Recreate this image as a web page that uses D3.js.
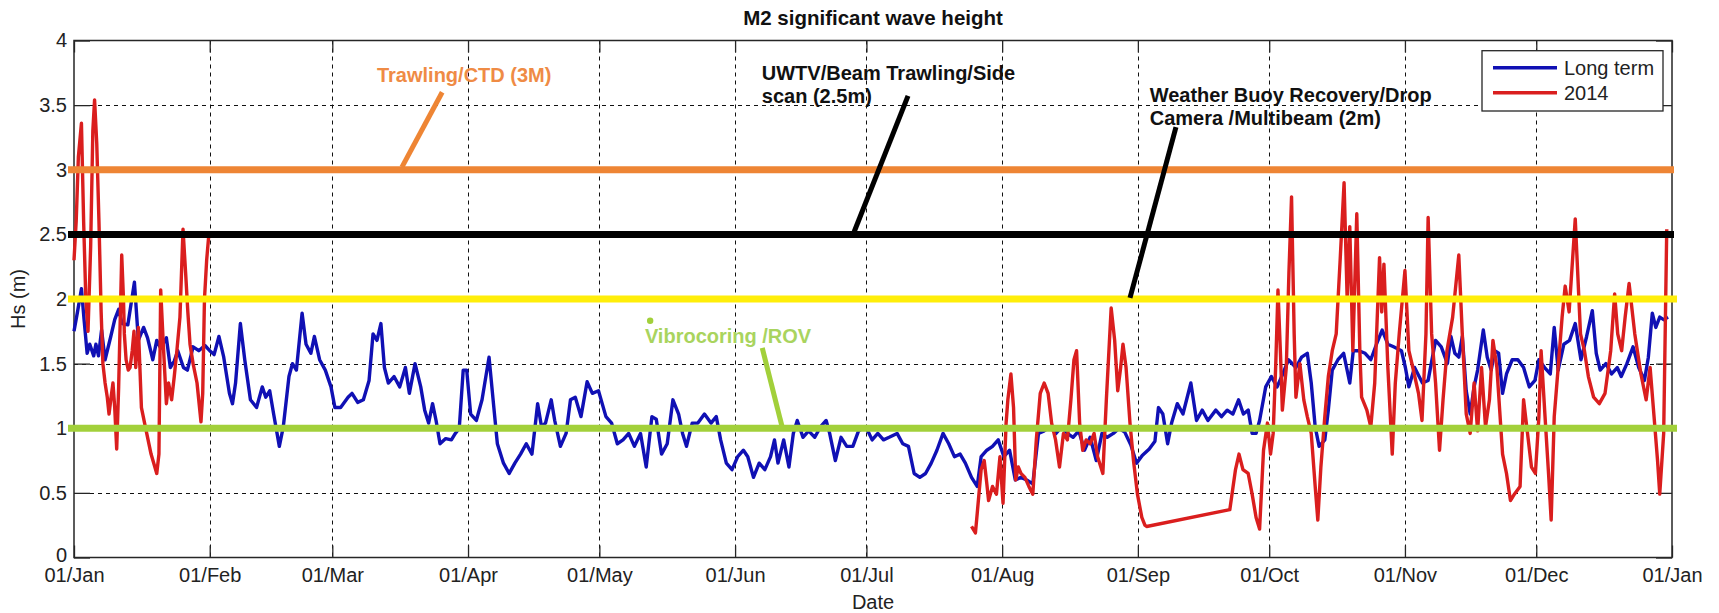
<!DOCTYPE html>
<html><head><meta charset="utf-8">
<script src="https://cdn.jsdelivr.net/npm/d3@7"></script>
<style>
html,body{margin:0;padding:0;background:#fff;}
svg{display:block;font-family:"Liberation Sans",Arial,Helvetica,sans-serif;}
</style></head><body>
<svg id="chart" width="1719" height="613"></svg>
<script>
// ---------------- DATA ----------------
const chartTitle = "M2 significant wave height";
const xLabel = "Date";
const yLabel = "Hs (m)";
const xTickLabels = ["01/Jan","01/Feb","01/Mar","01/Apr","01/May","01/Jun","01/Jul","01/Aug","01/Sep","01/Oct","01/Nov","01/Dec","01/Jan"];
const yTickValues = [0,0.5,1,1.5,2,2.5,3,3.5,4];
const yTickLabels = ["0","0.5","1","1.5","2","2.5","3","3.5","4"];
const seriesNames = ["Long term","2014"];

// [day of year (0 = 01/Jan/2014), Hs in metres]
const longTerm = [
[0,1.75],[0.8,1.9],[1.7,2.08],[2.3,1.84],[3,1.58],[3.6,1.65],[4.5,1.56],[5,1.65],[5.6,1.56],[6.3,1.76],
[7.1,1.53],[8.4,1.71],[9.3,1.84],[10.2,1.92],[11,1.81],[12.3,1.8],[13.8,2.13],[14.7,1.68],[15.9,1.78],[16.8,1.7],
[18,1.53],[18.9,1.68],[19.8,1.62],[21.1,1.7],[22,1.47],[22.9,1.52],[23.7,1.6],[25,1.47],[25.9,1.45],[27.2,1.63],
[28.5,1.6],[29.9,1.64],[31,1.6],[32,1.57],[33.1,1.71],[34.2,1.55],[35.5,1.27],[36.2,1.19],[36.9,1.35],[38,1.81],
[39,1.53],[40.3,1.22],[41.7,1.16],[43,1.32],[43.8,1.24],[44.7,1.29],[45.6,1.11],[46.9,0.86],[47.8,1.01],[49.1,1.4],
[49.9,1.5],[50.8,1.45],[52.1,1.89],[53,1.65],[54.1,1.58],[54.9,1.71],[56.1,1.53],[57.4,1.45],[58.7,1.32],[59.6,1.16],
[60.9,1.16],[62.6,1.24],[63.5,1.27],[64.8,1.2],[66.1,1.22],[67.4,1.37],[68.3,1.73],[69.2,1.68],[70.1,1.81],[70.9,1.47],
[71.8,1.35],[73.1,1.4],[74.4,1.32],[75.7,1.47],[76.6,1.27],[77.9,1.5],[79.2,1.32],[80.1,1.14],[81,1.04],[81.9,1.19],
[82.7,1.06],[83.6,0.88],[84.9,0.92],[86.2,0.91],[87.1,0.96],[88,1.0],[88.9,1.45],[89.7,1.45],[90.6,1.11],[91.9,1.06],
[93.2,1.22],[94.8,1.55],[95.9,1.16],[96.7,0.88],[98.1,0.73],[99.4,0.65],[100.7,0.73],[102,0.8],[103.3,0.88],[104.6,0.8],
[105.9,1.19],[106.8,1.01],[107.7,1.04],[109,1.22],[109.8,1.06],[111.1,0.86],[112.4,0.96],[113.4,1.22],[114.5,1.24],[115.8,1.09],
[117.2,1.36],[118.4,1.27],[119.8,1.29],[121.5,1.09],[122.8,1.04],[124.1,0.88],[125.4,0.91],[126.7,0.96],[128,0.86],[129.4,0.96],
[130.7,0.7],[132,1.09],[133,1.07],[134.2,0.8],[135.5,0.88],[136.8,1.22],[138.1,1.11],[139,0.96],[139.9,0.86],[141.2,1.04],
[142.5,1.04],[144,1.11],[145.5,1.04],[146.7,1.09],[147.7,0.91],[149,0.73],[150.3,0.68],[151.6,0.78],[152.9,0.83],[153.9,0.78],
[155.2,0.62],[156.5,0.73],[157.8,0.68],[159.1,0.78],[160,0.91],[160.8,0.73],[162.1,0.91],[163.3,0.7],[164.3,0.96],[165.2,1.06],
[166.5,0.93],[167.8,0.98],[169.2,0.93],[170.5,1.01],[171.8,1.06],[172.6,0.96],[173.9,0.75],[175.2,0.93],[176.5,0.86],[177.9,0.86],
[179.2,0.98],[180.9,1.01],[182.3,0.91],[183.6,0.96],[184.9,0.91],[186.2,0.93],[188,0.96],[189.3,0.88],[190.6,0.86],[191.9,0.65],
[193.2,0.62],[194.5,0.65],[195.8,0.73],[197.1,0.83],[198.5,0.96],[199.8,0.88],[201.1,0.78],[202.4,0.8],[203.6,0.73],[205,0.62],
[206.3,0.55],[207.2,0.78],[208.5,0.83],[209.8,0.86],[211.1,0.91],[212.4,0.78],[213.7,0.83],[215,0.6],[216.3,0.62],[217.6,0.6],
[219,0.57],[220.3,0.96],[221.6,0.98],[222.9,1.01],[224.3,0.96],[225.6,1.01],[226.9,0.96],[228.2,0.93],[229.5,0.98],[230.8,0.83],
[232.1,0.93],[233.5,0.75],[234.8,0.96],[236,0.93],[237.4,0.96],[238.7,1.0],[240,0.97],[241.4,0.87],[242.7,0.73],[244,0.79],
[245.6,0.84],[246.9,0.9],[247.7,1.16],[248.7,1.11],[249.8,0.88],[250.7,1.04],[252,1.19],[253.3,1.11],[255.1,1.35],[256.4,1.06],
[257.7,1.14],[259,1.06],[260.8,1.14],[262.1,1.09],[263.4,1.14],[264.7,1.11],[266,1.22],[267.1,1.11],[268.2,1.14],[269.1,0.96],
[270,0.96],[270.8,1.06],[272.2,1.32],[273.5,1.4],[274.8,1.32],[276.1,1.42],[277.4,1.53],[279.1,1.47],[280.4,1.55],[281.7,1.58],
[282.6,1.35],[283.5,1.01],[284.4,0.86],[285.7,0.91],[286.5,1.14],[287.4,1.45],[288.7,1.53],[290,1.58],[291.4,1.35],[292.2,1.6],
[293.5,1.6],[294.9,1.58],[296.2,1.53],[297.5,1.65],[298.8,1.76],[300.1,1.65],[301.4,1.63],[303.2,1.6],[304.1,1.47],[304.9,1.32],
[306.2,1.47],[308,1.35],[309.3,1.37],[311,1.68],[312.3,1.63],[313.7,1.5],[314.5,1.71],[315.4,1.58],[316.3,1.55],[317.1,1.71],
[318,1.29],[318.9,1.11],[319.8,1.32],[320.6,1.45],[321.9,1.76],[322.8,1.55],[323.7,1.45],[324.5,1.6],[325.4,1.58],[326.3,1.27],
[327.2,1.42],[328.5,1.53],[329.8,1.53],[331.1,1.47],[332.4,1.32],[333.7,1.37],[334.6,1.53],[335.9,1.47],[337.2,1.42],[338.1,1.78],
[339,1.45],[340.3,1.65],[341.6,1.68],[342.9,1.81],[344.2,1.53],[345.5,1.71],[346.8,1.91],[347.7,1.58],[348.6,1.45],[349.9,1.5],
[351.2,1.42],[352.5,1.47],[353.4,1.4],[354.7,1.5],[356.1,1.63],[357.4,1.47],[358.7,1.37],[359.6,1.55],[360.5,1.89],[361.3,1.78],
[362.2,1.86],[363.1,1.84],[364.1,1.86]
];

// null marks the data gap
const year2014 = [
[0,2.3],[0.5,2.6],[1,3.1],[1.7,3.36],[2.2,2.6],[2.7,2.0],[3.2,1.75],[3.8,2.4],[4.3,3.3],[4.7,3.54],
[5.2,3.2],[5.7,2.6],[6.2,1.9],[6.6,1.5],[7.1,1.35],[7.6,1.24],[8,1.11],[8.4,1.22],[8.9,1.35],[9.3,1.16],
[9.75,0.84],[10.2,1.32],[10.6,1.9],[10.9,2.34],[11.3,2.0],[11.5,1.73],[11.9,1.53],[12.4,1.45],[12.8,1.47],[13.3,1.6],
[13.7,1.75],[14.1,1.47],[14.7,1.78],[15.4,1.16],[16.3,1.01],[17.6,0.8],[18.9,0.65],[19.4,0.8],[19.8,2.07],[20.5,1.58],
[21.1,1.19],[21.6,1.35],[22.3,1.22],[22.9,1.4],[23.5,1.6],[24.2,1.86],[24.9,2.54],[25.5,2.2],[26,1.9],[26.5,1.65],
[27.2,1.5],[28.1,1.35],[29,1.05],[29.4,1.27],[29.8,2.0],[30.3,2.3],[30.8,2.5],
null,
[205,0.24],[205.9,0.19],[206.3,0.34],[207.2,0.68],[207.9,0.75],[208.5,0.57],[208.9,0.44],[209.8,0.55],[210.7,0.49],[211.5,0.78],
[212.2,0.42],[212.9,1.04],[213.3,1.22],[214,1.42],[214.6,1.16],[215.1,0.6],[215.7,0.7],[216.3,0.65],[217.2,0.62],[218.1,0.55],
[219,0.49],[219.8,0.91],[220.7,1.27],[221.6,1.35],[222.5,1.27],[223.3,1.04],[224.2,0.91],[225.1,0.7],[226,0.96],[226.9,0.91],
[227.7,1.22],[228.4,1.53],[229,1.6],[229.7,1.04],[230.4,0.83],[231.2,0.91],[232.1,0.88],[233,0.96],[233.8,0.78],[235,0.65],
[235.8,1.22],[236.9,1.93],[237.7,1.68],[238.4,1.29],[239,1.45],[239.6,1.65],[240.3,1.47],[241.2,1.04],[242,0.75],[242.9,0.49],
[243.9,0.31],[244.6,0.25],[245,0.24],[264,0.37],[265.3,0.68],[266.1,0.8],[267,0.68],[268.2,0.65],[269.1,0.49],[270,0.31],
[270.8,0.22],[271.7,0.83],[272.6,1.04],[273.3,0.8],[273.9,0.96],[274.5,1.5],[275,2.07],[275.6,1.55],[276,1.14],[276.9,1.47],
[277.5,2.2],[278.1,2.79],[278.7,1.73],[279.1,1.24],[280,1.5],[280.9,1.22],[281.7,1.09],[282.6,0.96],[283.5,0.55],[284.1,0.29],
[284.8,0.7],[285.7,1.09],[286.5,1.4],[287.4,1.6],[288.3,1.73],[289.2,2.3],[290.1,2.9],[290.8,2.0],[291.4,2.56],[292.1,1.6],
[293,2.66],[293.7,1.6],[294.1,1.24],[295.3,1.14],[296.2,1.01],[297.1,1.35],[298.2,2.32],[298.7,1.9],[299.2,2.27],[300.1,1.47],
[301.1,0.8],[301.8,1.35],[302.7,1.73],[304,2.22],[304.9,1.6],[305.8,1.47],[307.1,1.27],[307.9,1.06],[308.8,1.73],[309.3,2.63],
[310.1,1.73],[311,1.35],[311.9,0.83],[312.7,1.22],[313.6,1.6],[314.9,1.86],[316.3,2.34],[317.1,1.73],[318,1.11],[318.9,0.96],
[319.8,1.35],[320.6,0.98],[321.5,1.47],[322.4,1.01],[323.3,1.22],[324.1,1.68],[325,1.47],[326.3,0.8],[327.2,0.65],[328.1,0.44],
[329,0.49],[330.3,0.55],[331.1,1.22],[332,0.96],[332.9,0.7],[333.8,0.65],[334.6,1.09],[335.1,1.6],[336,1.09],[336.8,0.65],
[337.4,0.29],[338.1,1.09],[339,1.47],[339.9,1.86],[340.6,2.1],[341.5,1.9],[342.9,2.62],[344.1,1.73],[345,1.6],[345.9,1.4],
[347.1,1.24],[348.4,1.19],[349.7,1.27],[351,1.6],[351.9,2.04],[352.6,1.73],[353.5,1.6],[354.3,1.86],[355.2,2.12],[356.5,1.73],
[357.9,1.42],[359.1,1.22],[360,1.47],[360.9,1.09],[361.7,0.75],[362.2,0.49],[363.1,0.96],[363.8,2.54]
];

// operational thresholds (m)
const thresholdValues = [3, 2.5, 2, 1];
const thresholdLabels = [["Trawling/CTD (3M)"], ["UWTV/Beam Trawling/Side","scan (2.5m)"], ["Weather Buoy Recovery/Drop","Camera /Multibeam (2m)"], ["Vibrocoring /ROV"]];

// ---------------- LAYOUT / STYLE ----------------
const W = 1719, H = 613;
const plot = {x0: 74, x1: 1672, y0: 40.5, y1: 557.5};
const thresholdColors = ["#EE8534", "#000000", "#FFEE0A", "#A2D03A"];
const leaderColors = ["#EE8534", "#000000", "#000000", "#A2D03A"];
const labelColors = ["#EF8B45", "#111111", "#111111", "#A9D45E"];
// annotation anchor positions in data units [day, Hs]
const annot = [
  {text:[69.2,3.679], from:[84.1,3.60], to:[74.9,3.02]},
  {text:[157.1,3.694], from:[190.5,3.571], to:[178.2,2.52]},
  {text:[245.7,3.528], from:[251.7,3.33], to:[241.2,2.008]},
  {text:[130.4,1.663], from:[157.2,1.621], to:[161.7,1.017], dot:[131.6,1.832]}
];
const FONT = 20;

const dayToDate = d => new Date(Date.UTC(2014,0,1) + d*864e5);
const monthDates = d3.range(13).map(i => new Date(Date.UTC(2014, i, 1)));

const x = d3.scaleUtc().domain([Date.UTC(2014,0,1), Date.UTC(2015,0,1)]).range([plot.x0, plot.x1]);
const y = d3.scaleLinear().domain([0,4]).range([plot.y1, plot.y0]);

const svg = d3.select("#chart");
svg.append("rect").attr("width", W).attr("height", H).attr("fill", "#fff");

// gridlines
const grid = svg.append("g").attr("stroke", "#111").attr("stroke-width", 1).attr("stroke-dasharray", "4,4");
grid.selectAll("line.v").data(monthDates.slice(1, -1)).join("line")
  .attr("x1", d => Math.round(x(d)) + 0.5).attr("x2", d => Math.round(x(d)) + 0.5)
  .attr("y1", plot.y0).attr("y2", plot.y1);
grid.selectAll("line.h").data(yTickValues.slice(1, -1)).join("line")
  .attr("y1", d => Math.round(y(d)) + 0.5).attr("y2", d => Math.round(y(d)) + 0.5)
  .attr("x1", plot.x0).attr("x2", plot.x1);

// axes
const styleAxis = g => {
  g.select(".domain").remove();
  g.selectAll(".tick line").attr("stroke", "#262626").attr("stroke-width", 1.3);
  g.selectAll(".tick text").attr("fill", "#222").attr("font-size", FONT).attr("font-family", '"Liberation Sans",Arial,sans-serif');
};
svg.append("g").attr("transform", `translate(0,${plot.y1})`)
  .call(d3.axisBottom(x).tickValues(monthDates).tickFormat((d,i) => xTickLabels[i]).tickSizeInner(-12).tickSizeOuter(0).tickPadding(10))
  .call(styleAxis);
svg.append("g").attr("transform", `translate(0,${plot.y0})`)
  .call(d3.axisTop(x).tickValues(monthDates).tickFormat("").tickSizeInner(-12).tickSizeOuter(0))
  .call(styleAxis);
svg.append("g").attr("transform", `translate(${plot.x0},0)`)
  .call(d3.axisLeft(y).tickValues(yTickValues).tickFormat((d,i) => yTickLabels[i]).tickSizeInner(-16).tickSizeOuter(0).tickPadding(7))
  .call(styleAxis)
  .call(g => g.selectAll(".tick text").filter(d => d === 0).attr("dy", "0.2em"));
svg.append("g").attr("transform", `translate(${plot.x1},0)`)
  .call(d3.axisRight(y).tickValues(yTickValues).tickFormat("").tickSizeInner(-16).tickSizeOuter(0))
  .call(styleAxis);

// frame
svg.append("rect").attr("x", plot.x0).attr("y", plot.y0)
  .attr("width", plot.x1 - plot.x0).attr("height", plot.y1 - plot.y0)
  .attr("fill", "none").attr("stroke", "#262626").attr("stroke-width", 1.5);

// series
const line = d3.line().defined(d => d !== null)
  .x(d => x(dayToDate(d[0]))).y(d => y(d[1])).curve(d3.curveLinear);
svg.append("path").datum(longTerm).attr("d", line)
  .attr("fill", "none").attr("stroke", "#1010B4").attr("stroke-width", 3.4).attr("stroke-linejoin", "round");
svg.append("path").datum(year2014).attr("d", line)
  .attr("fill", "none").attr("stroke", "#DA1E1E").attr("stroke-width", 3.4).attr("stroke-linejoin", "round");

// threshold lines
svg.append("g").selectAll("line").data(thresholdValues).join("line")
  .attr("x1", plot.x0 - 6).attr("x2", (d,i) => plot.x1 + (i >= 2 ? 5 : 2))
  .attr("y1", d => y(d)).attr("y2", d => y(d))
  .attr("stroke", (d,i) => thresholdColors[i]).attr("stroke-width", 7);

// annotations
const ann = svg.append("g");
annot.forEach((a, i) => {
  ann.append("line")
    .attr("x1", x(dayToDate(a.from[0]))).attr("y1", y(a.from[1]))
    .attr("x2", x(dayToDate(a.to[0]))).attr("y2", y(a.to[1]))
    .attr("stroke", leaderColors[i]).attr("stroke-width", 5);
  if (a.dot) ann.append("circle").attr("cx", x(dayToDate(a.dot[0]))).attr("cy", y(a.dot[1]))
    .attr("r", 3.2).attr("fill", leaderColors[i]);
  const t = ann.append("text").attr("x", x(dayToDate(a.text[0]))).attr("y", y(a.text[1]))
    .attr("fill", labelColors[i]).attr("font-weight", "bold").attr("font-size", FONT);
  thresholdLabels[i].forEach((s, j) => {
    t.append("tspan").attr("x", x(dayToDate(a.text[0]))).attr("dy", j === 0 ? 0 : 23).text(s);
  });
});

// title & axis labels
svg.append("text").attr("x", (plot.x0 + plot.x1) / 2).attr("y", 25).attr("text-anchor", "middle")
  .attr("font-weight", "bold").attr("font-size", 20.5).attr("fill", "#111").text(chartTitle);
svg.append("text").attr("x", (plot.x0 + plot.x1) / 2).attr("y", 609).attr("text-anchor", "middle")
  .attr("font-size", FONT).attr("fill", "#222").text(xLabel);
svg.append("text").attr("transform", `translate(25,${(plot.y0 + plot.y1) / 2}) rotate(-90)`)
  .attr("text-anchor", "middle").attr("font-size", FONT).attr("fill", "#222").text(yLabel);

// legend
const lg = svg.append("g");
lg.append("rect").attr("x", 1482).attr("y", 50.7).attr("width", 181).attr("height", 60.3)
  .attr("fill", "#fff").attr("stroke", "#262626").attr("stroke-width", 1.3);
const legendColors = ["#1010B4", "#DA1E1E"];
seriesNames.forEach((n, i) => {
  const ly = 67.7 + i * 25;
  lg.append("line").attr("x1", 1493).attr("x2", 1557).attr("y1", ly).attr("y2", ly)
    .attr("stroke", legendColors[i]).attr("stroke-width", 3.4);
  lg.append("text").attr("x", 1564).attr("y", ly + 7).attr("font-size", FONT).attr("fill", "#222").text(n);
});
</script>
</body></html>
